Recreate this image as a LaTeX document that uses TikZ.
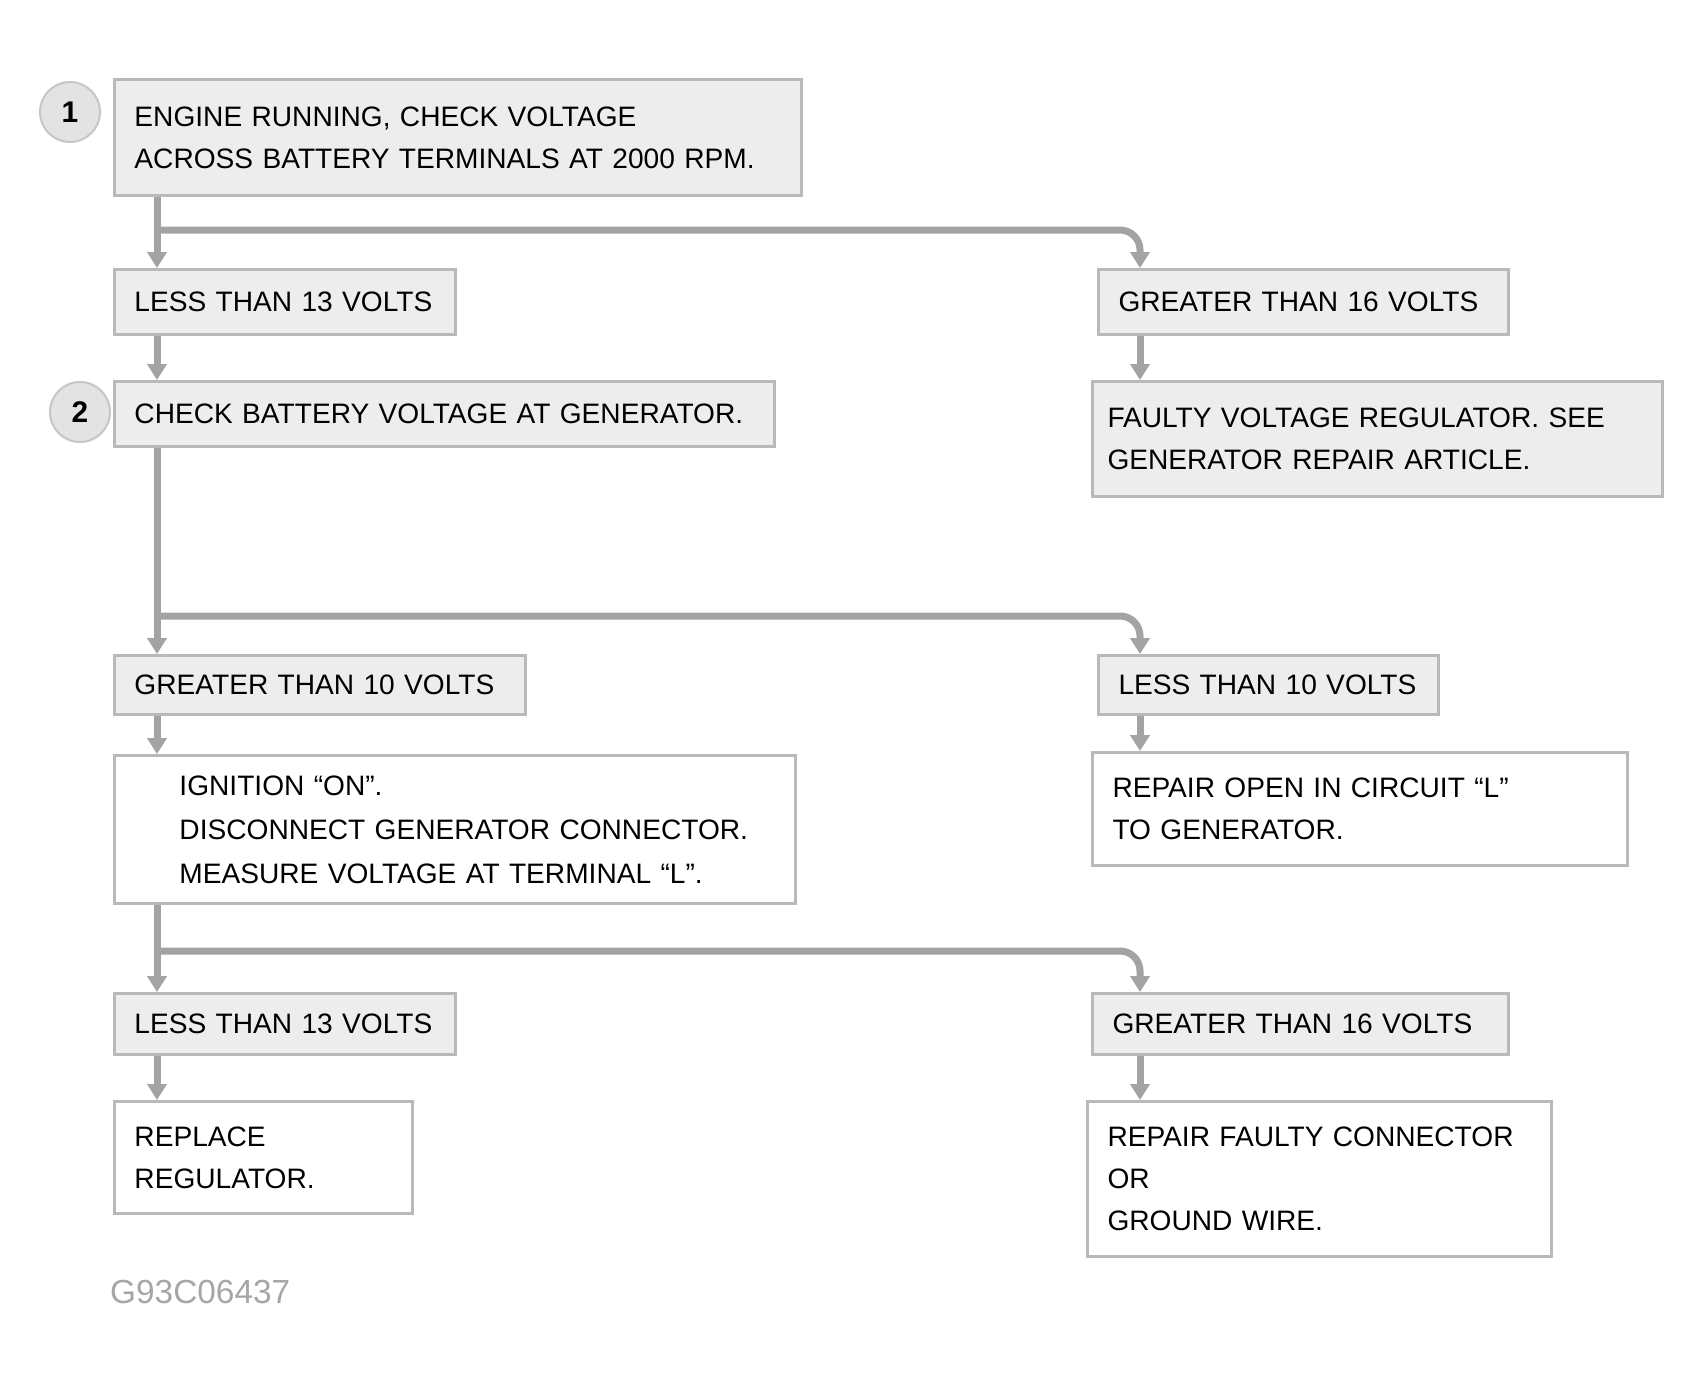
\documentclass[tikz,border=0pt]{standalone}
\usepackage{fontspec}
\setmainfont{Liberation Sans}
\usetikzlibrary{arrows.meta}
\newcommand\myfont{\fontsize{16}{24}\selectfont\hyphenpenalty=10000\relax}
\begin{document}
\begin{tikzpicture}[x=0.02cm,y=-0.02cm,
  box/.style={draw=gray!55, line width=0.06cm, fill=gray!14, anchor=north west,
    align=left, inner xsep=0.4cm, inner ysep=0pt, font=\myfont},
  openbox/.style={box, fill=white},
  stepnum/.style={circle, fill=gray!22, draw=gray!45, line width=0.04cm,
    minimum size=1.2cm, inner sep=0pt, font=\fontsize{17}{20}\selectfont\bfseries},
  conn/.style={draw=gray!72, line width=0.14cm, rounded corners=0.4cm},
  arr/.style={conn, -{Triangle[length=0.32cm,width=0.38cm]}},
  figid/.style={anchor=west, font=\fontsize{19}{22}\selectfont, text=gray!70}]
\useasboundingbox (0,0) rectangle (1694,1384);

% column positions and branch points
\coordinate (lx) at (157,0);
\coordinate (rx) at (1140,0);
\coordinate (b1) at (157,230);
\coordinate (b2) at (157,616);
\coordinate (b3) at (157,951);

% step 1
\node[stepnum] (n1) at (70,112) {1};
\node[box, minimum height=2.32cm, text width=12.94cm] (s1) at (113,78)
  {ENGINE RUNNING, CHECK VOLTAGE\\ACROSS BATTERY TERMINALS AT 2000 RPM.};
\node[box, minimum height=1.30cm, text width=6.02cm] (l1) at (113,268) {LESS THAN 13 VOLTS};
\node[box, minimum height=1.30cm, text width=7.40cm] (r1) at (1097,268) {GREATER THAN 16 VOLTS};

% step 2
\node[stepnum] (n2) at (80,412) {2};
\node[box, minimum height=1.30cm, text width=12.40cm] (s2) at (113,380)
  {CHECK BATTERY VOLTAGE AT GENERATOR.};
\node[box, minimum height=2.30cm, text width=10.80cm, inner xsep=0.3cm] (r2) at (1091,380)
  {FAULTY VOLTAGE REGULATOR. SEE\\GENERATOR REPAIR ARTICLE.};
\node[box, minimum height=1.18cm, text width=7.42cm] (l3) at (113,654) {GREATER THAN 10 VOLTS};
\node[box, minimum height=1.18cm, text width=6.00cm] (r3) at (1097,654) {LESS THAN 10 VOLTS};

% step 3
\node[openbox, minimum height=2.96cm, text width=12.82cm] (s3) at (113,754)
  {\myfont\baselineskip=25pt\hspace*{0.9cm}IGNITION ``ON''.\\\hspace*{0.9cm}DISCONNECT GENERATOR CONNECTOR.\\\hspace*{0.9cm}MEASURE VOLTAGE AT TERMINAL ``L''.\par};
\node[openbox, minimum height=2.26cm, text width=9.90cm] (r4) at (1091,751)
  {REPAIR OPEN IN CIRCUIT ``L''\\TO GENERATOR.};
\node[box, minimum height=1.22cm, text width=6.02cm] (l4) at (113,992) {LESS THAN 13 VOLTS};
\node[box, minimum height=1.22cm, text width=7.52cm] (r5) at (1091,992) {GREATER THAN 16 VOLTS};
\node[openbox, minimum height=2.24cm, text width=5.16cm] (l5) at (113,1100)
  {REPLACE\\REGULATOR.};
\node[openbox, minimum height=3.10cm, text width=8.48cm] (r6) at (1086,1100)
  {REPAIR FAULTY CONNECTOR\\OR\\GROUND WIRE.};

\node[figid] (fig) at (104,1292) {G93C06437};

% connectors
\draw[arr] (s1.south -| lx) -- (l1.north -| lx);
\draw[arr] (b1) -- (b1 -| rx) -- (r1.north -| rx);
\draw[arr] (l1.south -| lx) -- (s2.north -| lx);
\draw[arr] (r1.south -| rx) -- (r2.north -| rx);
\draw[arr] (s2.south -| lx) -- (l3.north -| lx);
\draw[arr] (b2) -- (b2 -| rx) -- (r3.north -| rx);
\draw[arr] (l3.south -| lx) -- (s3.north -| lx);
\draw[arr] (r3.south -| rx) -- (r4.north -| rx);
\draw[arr] (s3.south -| lx) -- (l4.north -| lx);
\draw[arr] (b3) -- (b3 -| rx) -- (r5.north -| rx);
\draw[arr] (l4.south -| lx) -- (l5.north -| lx);
\draw[arr] (r5.south -| rx) -- (r6.north -| rx);
\end{tikzpicture}
\end{document}
